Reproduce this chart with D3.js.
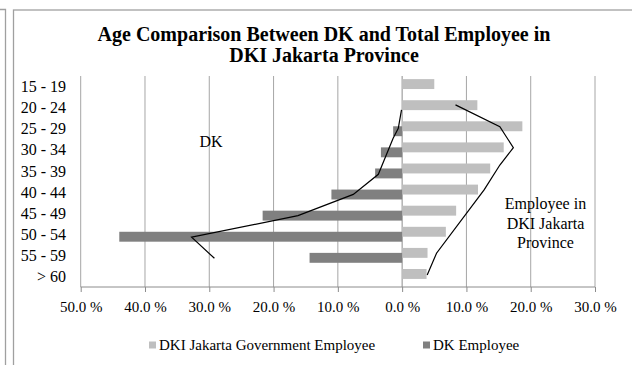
<!DOCTYPE html>
<html>
<head>
<meta charset="utf-8">
<script src="https://cdn.jsdelivr.net/npm/d3@7"></script>
<style>
  html, body { margin: 0; padding: 0; background: #fff; }
  svg { display: block; }
  text { font-family: "Liberation Serif", "Times New Roman", serif; fill: #000; }
</style>
</head>
<body>
<script>
// Age groups, top to bottom
const ageGroups = ["15 - 19", "20 - 24", "25 - 29", "30 - 34", "35 - 39",
                   "40 - 44", "45 - 49", "50 - 54", "55 - 59", "> 60"];
// Share of employees per age group (%)
const govEmployee = [5.0, 11.7, 18.7, 15.8, 13.7, 11.8, 8.4, 6.8, 3.95, 3.8];
const dkEmployee  = [0, 0, 1.4, 3.3, 4.2, 11.0, 21.7, 44.0, 14.4, 0];
const seriesNames = ["DKI Jakarta Government Employee", "DK Employee"];
const xTicks = [-50, -40, -30, -20, -10, 0, 10, 20, 30];

// Hand-drawn trend outlines: [percent, position in age-group units from the top]
const dkOutline = [[-0.1, 1.61], [-0.6, 2.48], [-1.4, 2.95], [-3.7, 4.66],
                   [-7.6, 5.61], [-16.2, 6.62], [-32.75, 7.64], [-29.2, 8.64]];
const govOutline = [[8.3, 1.37], [15.2, 2.40], [17.3, 3.40], [15.2, 4.22],
                    [12.75, 5.40], [5.35, 8.40], [3.9, 9.43]];

const W = 632, H = 365;
const plot = { left: 80.7, right: 595, top: 76, bottom: 287 };
const colors = { gov: "#bfbfbf", dk: "#808080", grid: "#a6a6a6", axis: "#8c8c8c", frame: "#a0a0a0" };

const svg = d3.select("body").append("svg").attr("width", W).attr("height", H);

// Chart frame
svg.append("rect").attr("x", 13.5).attr("y", 10).attr("width", W + 10).attr("height", H + 10)
  .attr("fill", "none").attr("stroke", colors.frame).attr("stroke-width", 1.3);
svg.append("path").attr("d", `M0,9.5H5.5V${H}`).attr("fill", "none")
  .attr("stroke", colors.frame).attr("stroke-width", 1.3);

const x = d3.scaleLinear().domain([-50, 30]).range([plot.left, plot.right]);
const y = d3.scaleBand().domain(ageGroups).range([plot.top, plot.bottom]);
const yPos = d3.scaleLinear().domain([0, ageGroups.length]).range([plot.top, plot.bottom]);

const bw = y.bandwidth();
const barH = bw * 0.47;
const barOffset = i => (bw - 1.5 * barH) / 2 + i * barH / 2;

// Vertical gridlines
svg.append("g").selectAll("line").data(xTicks).join("line")
  .attr("x1", d => x(d)).attr("x2", d => x(d))
  .attr("y1", plot.top).attr("y2", plot.bottom)
  .attr("stroke", d => d === 0 ? colors.axis : colors.grid).attr("stroke-width", 1);

// Bars: government employees to the right, DK employees to the left
svg.append("g").selectAll("rect").data(ageGroups).join("rect")
  .attr("x", x(0)).attr("y", d => y(d) + barOffset(0))
  .attr("width", (d, i) => x(govEmployee[i]) - x(0)).attr("height", barH)
  .attr("fill", colors.gov);
svg.append("g").selectAll("rect").data(ageGroups).join("rect")
  .attr("x", (d, i) => x(-dkEmployee[i])).attr("y", d => y(d) + barOffset(1))
  .attr("width", (d, i) => x(0) - x(-dkEmployee[i])).attr("height", barH)
  .attr("fill", colors.dk);

// Bottom axis
const xAxis = d3.axisBottom(x).tickValues(xTicks).tickSize(5).tickPadding(9)
  .tickFormat(d => Math.abs(d).toFixed(1) + " %");
const gx = svg.append("g").attr("transform", `translate(0,${plot.bottom})`).call(xAxis);
gx.select(".domain").attr("stroke", colors.axis).attr("d", `M${plot.left},0H${plot.right}`);
gx.selectAll(".tick line").attr("stroke", colors.axis);
gx.selectAll(".tick text").attr("font-size", "15px")
  .attr("font-family", "Liberation Serif, Times New Roman, serif").attr("fill", "#000");

// Age group labels
svg.append("g").selectAll("text").data(ageGroups).join("text")
  .attr("x", 66).attr("y", d => y(d) + bw / 2).attr("dy", "0.35em")
  .attr("text-anchor", "end").attr("font-size", "16px").text(d => d);

// Trend outlines
const line = d3.line().x(d => x(d[0])).y(d => yPos(d[1]));
[dkOutline, govOutline].forEach(pts => {
  svg.append("path").attr("d", line(pts)).attr("fill", "none")
    .attr("stroke", "#000").attr("stroke-width", 1.2);
});

// Annotations
svg.append("text").attr("x", 211).attr("y", 146.5).attr("text-anchor", "middle")
  .attr("font-size", "16px").text("DK");
const ann = svg.append("text").attr("text-anchor", "middle").attr("font-size", "16px");
["Employee in", "DKI Jakarta", "Province"].forEach((t, i) => {
  ann.append("tspan").attr("x", 545.5).attr("y", 209 + i * 19.5).text(t);
});

// Title
const title = svg.append("text").attr("text-anchor", "middle")
  .attr("font-size", "20px").attr("font-weight", "bold");
["Age Comparison Between DK and Total Employee in", "DKI Jakarta Province"].forEach((t, i) => {
  title.append("tspan").attr("x", 324).attr("y", 41 + i * 21).text(t);
});

// Legend
const legendItems = [
  { name: seriesNames[0], color: colors.gov, x: 149 },
  { name: seriesNames[1], color: colors.dk, x: 423 }
];
const lg = svg.append("g").selectAll("g").data(legendItems).join("g")
  .attr("transform", d => `translate(${d.x},345)`);
lg.append("rect").attr("x", 0).attr("y", -3.5).attr("width", 7).attr("height", 7).attr("fill", d => d.color);
lg.append("text").attr("x", 10).attr("y", 0).attr("dy", "0.3em")
  .attr("font-size", "15px").text(d => d.name);
</script>
</body>
</html>
